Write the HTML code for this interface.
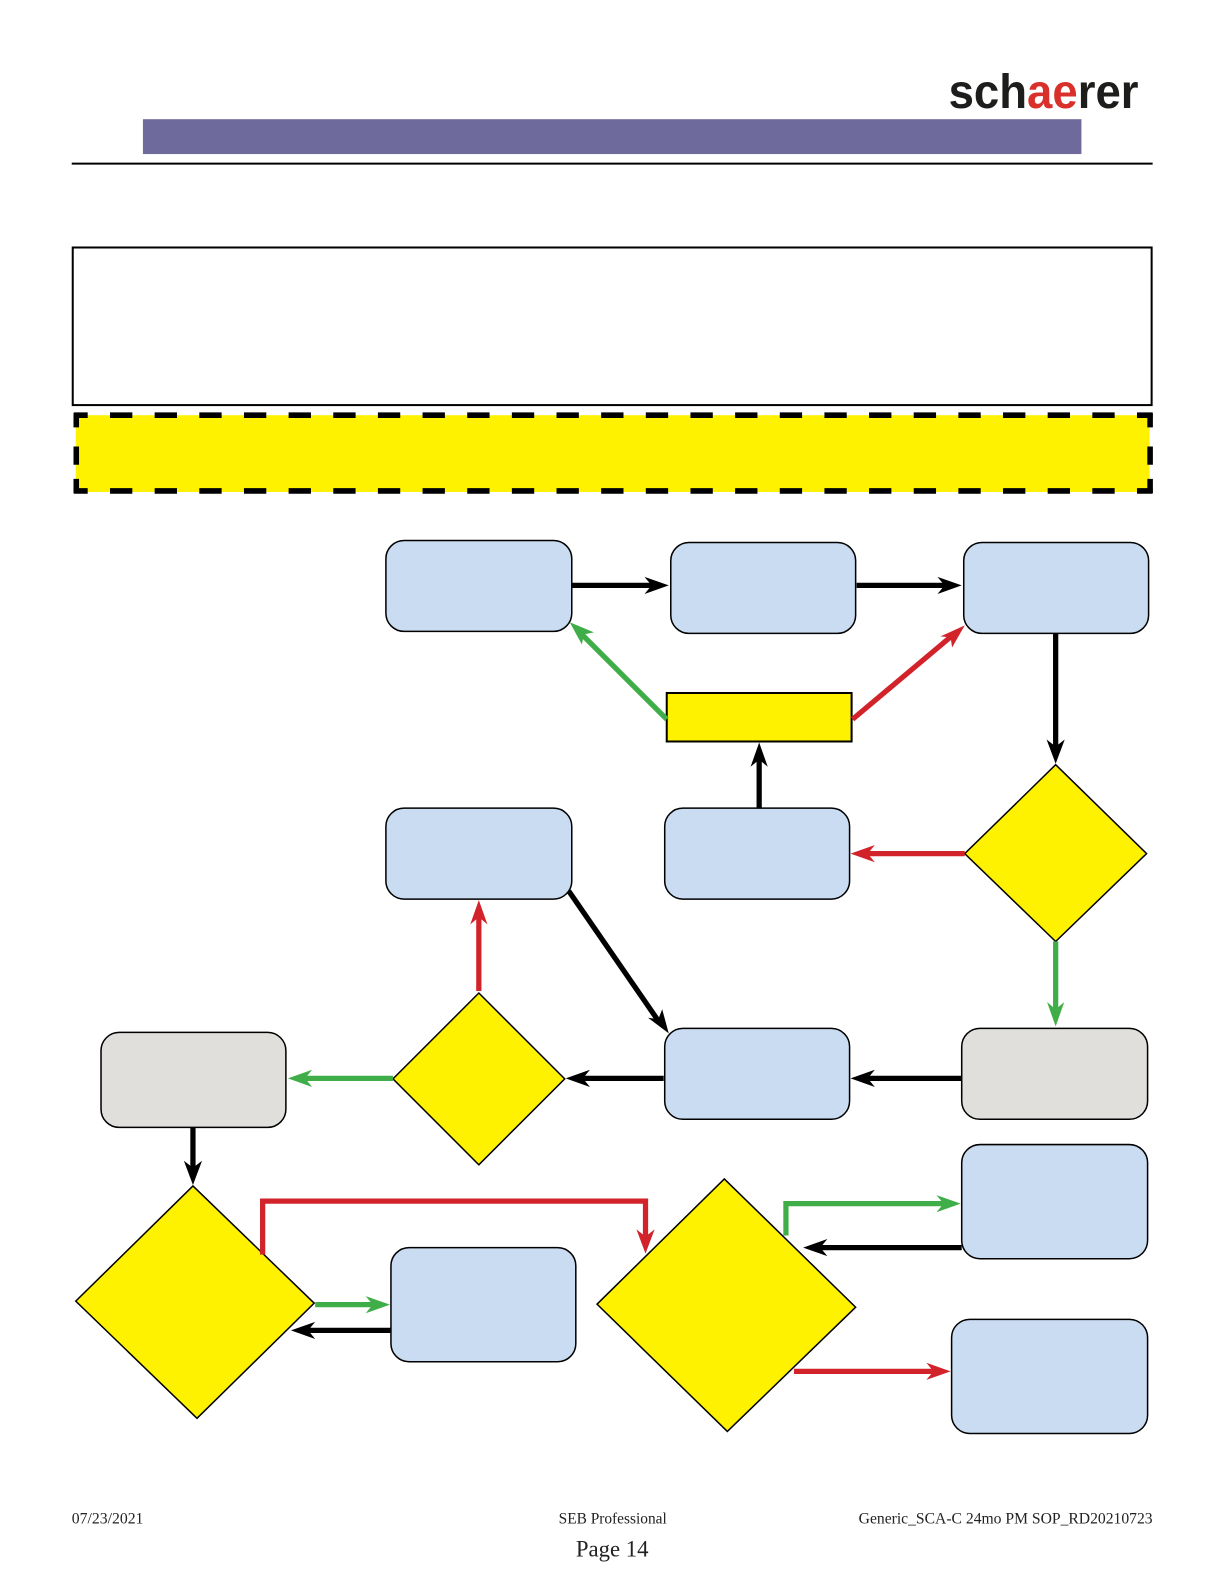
<!DOCTYPE html>
<html><head><meta charset="utf-8"><style>html,body{margin:0;padding:0;background:#fff}svg{display:block}</style></head><body>
<svg width="1224" height="1584" viewBox="0 0 1224 1584" xmlns="http://www.w3.org/2000/svg">
<g transform="scale(1.0102)">
<text x="939" y="107" font-family="Liberation Sans, sans-serif" font-weight="bold" font-size="48" fill="#1d1d1b" textLength="188" lengthAdjust="spacingAndGlyphs">sch<tspan fill="#d9302c">ae</tspan>rer</text>
<rect x="141.500" y="118" width="929" height="34.500" fill="#6e6a9b"/>
<line x1="71" y1="162" x2="1141" y2="162" stroke="#000" stroke-width="2"/>
<rect x="72" y="245" width="1068" height="156" fill="#fff" stroke="#000" stroke-width="2"/>
<rect x="75" y="411" width="1063" height="76" fill="#fff200"/>
<g stroke="#000" stroke-width="5.500" fill="none">
<line x1="73" y1="411" x2="1141" y2="411" stroke-dasharray="22.100 22.100" stroke-dashoffset="8.300"/>
<line x1="73" y1="486" x2="1141" y2="486" stroke-dasharray="22.100 22.100" stroke-dashoffset="8.300"/>
<path d="M75.500 409V423M75.500 442V460M75.500 474V488M1138.500 409V423M1138.500 442V460M1138.500 474V488"/>
</g>
<g fill="#c9dcf1" stroke="#000" stroke-width="1.500">
<rect x="382" y="535" width="184" height="90" rx="18"/>
<rect x="664" y="537" width="183" height="90" rx="18"/>
<rect x="954" y="537" width="183" height="90" rx="18"/>
<rect x="382" y="800" width="184" height="90" rx="18"/>
<rect x="658" y="800" width="183" height="90" rx="18"/>
<rect x="658" y="1018" width="183" height="90" rx="18"/>
<rect x="952" y="1018" width="184" height="90" rx="18" fill="#e0dfdc"/>
<rect x="100" y="1022" width="183" height="94" rx="18" fill="#e0dfdc"/>
<rect x="387" y="1235" width="183" height="113" rx="18"/>
<rect x="952" y="1133" width="184" height="113" rx="18"/>
<rect x="942" y="1306" width="194" height="113" rx="18"/>
</g>
<g fill="#fff200" stroke="#000" stroke-width="1.500">
<rect x="660" y="686" width="183" height="48" stroke-width="2"/>
<polygon points="1045,757 1135,845 1045,932 955,845"/>
<polygon points="474,983 559,1068 474,1153 389,1068"/>
<polygon points="191,1174 311,1290 195,1404 75,1288"/>
<polygon points="717,1167 847,1294 720,1417 591,1291"/>
</g>
<g fill="none" stroke-width="5.200">
<g stroke="#000">
<path d="M566 579.500H650"/><path d="M848 579.500H940"/><path d="M1045 627V743"/>
<path d="M751.500 800V748"/><path d="M563 882L652 1011"/><path d="M657 1067.500H574"/>
<path d="M952 1067.500H855"/><path d="M191 1116V1160"/><path d="M952 1235H808"/><path d="M387 1317H302"/>
</g>
<g stroke="#d2232a">
<path d="M955 845H855"/><path d="M474 981V904"/><path d="M844 712L944 628"/>
<path d="M260 1242V1189H639V1228"/><path d="M786 1357.500H928"/>
</g>
<g stroke="#3fae49">
<path d="M660 712L575 627"/><path d="M1045 932V1003"/><path d="M389 1067.500H298"/>
<path d="M778 1223V1191.500H938"/><path d="M312 1291.500H374"/>
</g>
</g>
<g fill="#000">
<polygon points="662,579.500 638,571 645,579.500 638,588"/>
<polygon points="952,579.500 928,571 935,579.500 928,588"/>
<polygon points="1045,756 1036,732 1045,739 1054,732"/>
<polygon points="751.500,735 743,759 751.500,752 760,759"/>
<polygon points="662,1023 641.500,1007.500 651.700,1008.900 655.500,999"/>
<polygon points="560,1067.500 584,1059 577,1067.500 584,1076"/>
<polygon points="842,1067.500 866,1059 859,1067.500 866,1076"/>
<polygon points="191,1173 182,1149 191,1156 200,1149"/>
<polygon points="795,1235 819,1226.500 812,1235 819,1243.500"/>
<polygon points="288,1317 312,1308.500 305,1317 312,1325.500"/>
</g>
<g fill="#d2232a">
<polygon points="842,845 866,836.500 859,845 866,853.500"/>
<polygon points="474,891 465.500,915 474,908 482.500,915"/>
<polygon points="955,619 942.500,641 941,631 931,630"/>
<polygon points="639,1241 630,1217 639,1224 648,1217"/>
<polygon points="941,1357.500 917,1349 924,1357.500 917,1366"/>
</g>
<g fill="#3fae49">
<polygon points="564,616 576,638 578,628 588,626"/>
<polygon points="1045,1016 1036.500,992 1045,999 1053.500,992"/>
<polygon points="285,1067.500 309,1059 302,1067.500 309,1076"/>
<polygon points="951,1191.500 927,1183 934,1191.500 927,1200"/>
<polygon points="386,1291.500 362,1283 369,1291.500 362,1300"/>
</g>
<g font-family="Liberation Serif, serif" fill="#222" font-size="15.500">
<text x="71" y="1508" textLength="71" lengthAdjust="spacingAndGlyphs">07/23/2021</text>
<text x="553" y="1508" textLength="107" lengthAdjust="spacingAndGlyphs">SEB Professional</text>
<text x="850" y="1508" textLength="291" lengthAdjust="spacingAndGlyphs">Generic_SCA-C 24mo PM SOP_RD20210723</text>
<text x="570" y="1541" font-size="23" textLength="72" lengthAdjust="spacingAndGlyphs">Page 14</text>
</g>
</g>
</svg>
</body></html>
